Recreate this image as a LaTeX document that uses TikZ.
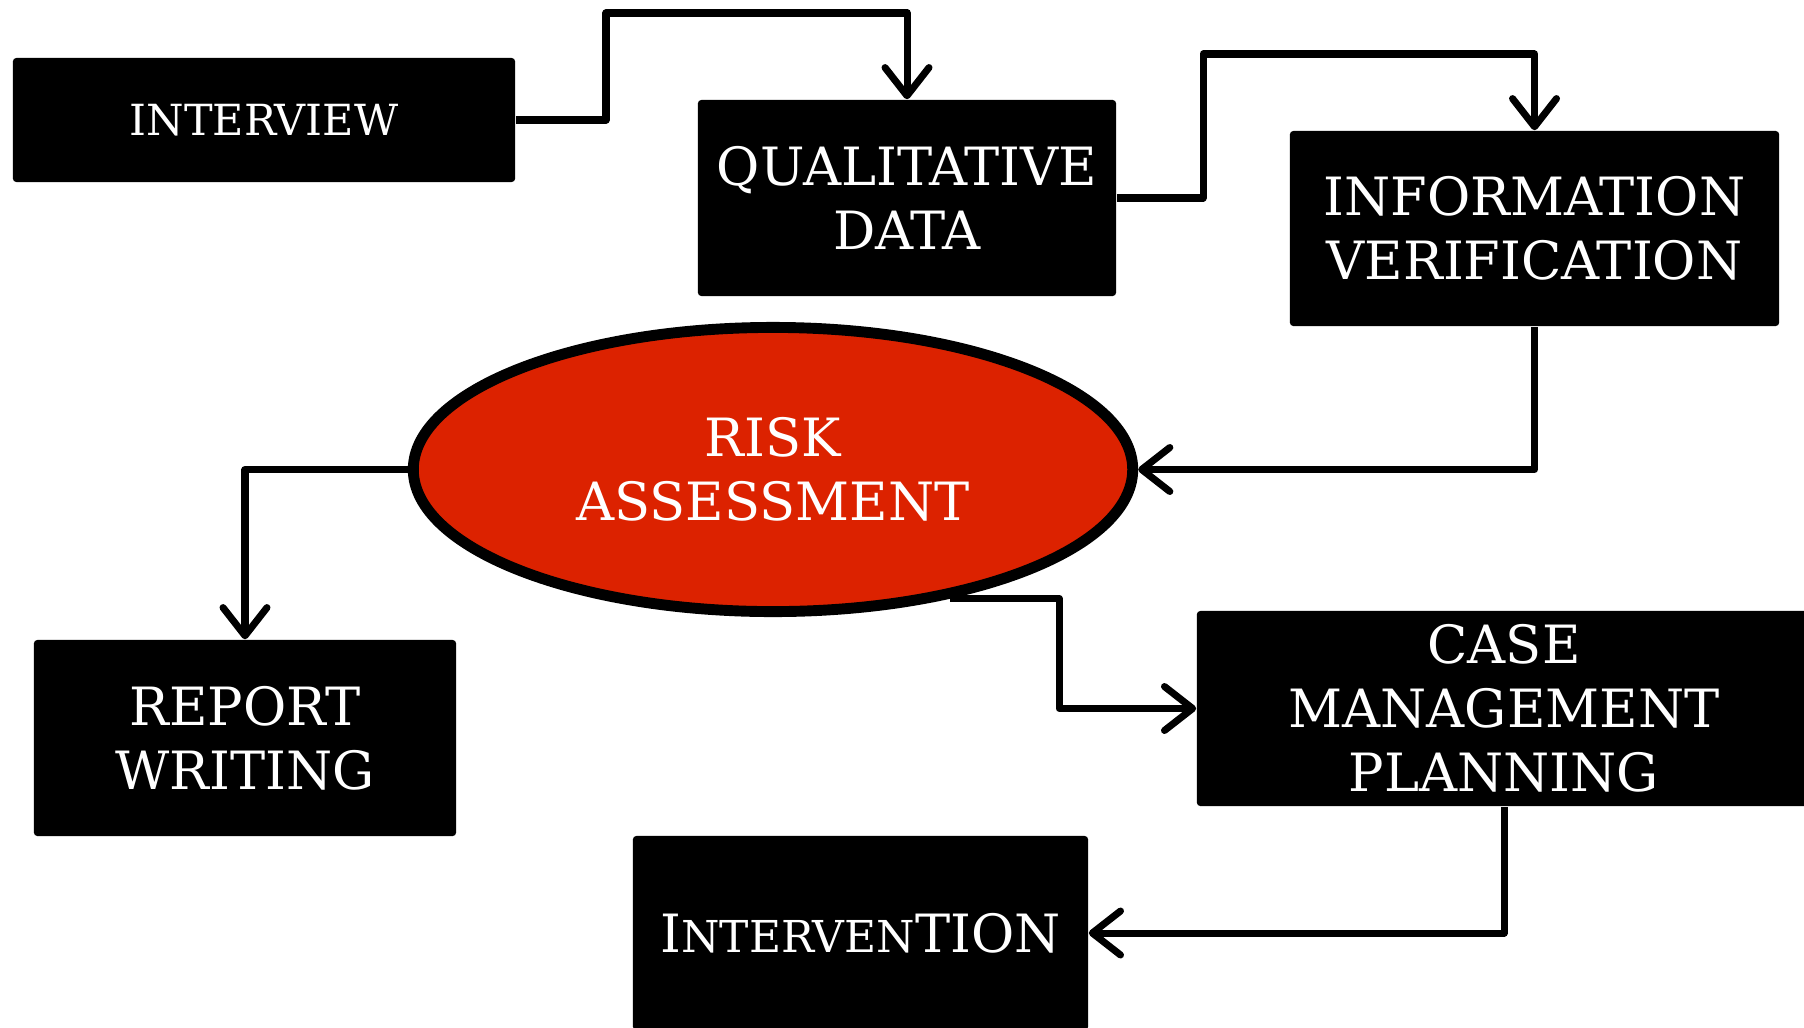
\documentclass[tikz,border=0pt]{standalone}
\usepackage{fontspec}
\setmainfont{DejaVu Serif}
\usetikzlibrary{arrows.meta,shapes.geometric}
\definecolor{riskred}{RGB}{220,34,0}
\begin{document}
\begin{tikzpicture}[x=0.01cm,y=-0.01cm,
  box/.style={fill=black,text=white,inner sep=0pt,align=center,rounded corners=1pt,
    font=\fontsize{15pt}{18.2pt}\selectfont},
  conn/.style={line width=2pt,line join=round,
    -{Straight Barb[length=8pt,width=12.5pt,round]}}
]
\clip (0,0) rectangle (1804,1027);
\fill[white] (0,0) rectangle (1804,1027);

\node[box,minimum width=5.02cm,minimum height=1.24cm,font=\fontsize{12.2pt}{15pt}\selectfont] (interview) at (264,120) {INTERVIEW};
\node[box,minimum width=4.18cm,minimum height=1.96cm] (qd) at (907,198) {QUALITATIVE\\DATA};
\node[box,minimum width=4.89cm,minimum height=1.95cm] (iv) at (1534.5,228.5) {INFORMATION\\VERIFICATION};
\node[ellipse,draw=black,line width=3.1pt,fill=riskred,text=white,inner sep=0pt,
  minimum width=7.19cm,minimum height=2.84cm,align=center,
  font=\fontsize{15pt}{18.2pt}\selectfont] (ra) at (773,469.5) {RISK\\ASSESSMENT};
\node[box,minimum width=4.22cm,minimum height=1.96cm] (rw) at (245,738) {REPORT\\WRITING};
\node[box,minimum width=6.14cm,minimum height=1.95cm] (cmp) at (1504,708.5) {CASE\\MANAGEMENT\\PLANNING};
\node[box,minimum width=4.55cm,minimum height=1.94cm] (int) at (860.5,933) {I{\fontsize{12.5pt}{15pt}\selectfont NTERVEN}TION};

\coordinate (c1) at (606,13);
\coordinate (c2) at (1203,54);
\coordinate (c3) at (1059,700);

\draw[conn] (interview.east) -| (c1) -| (qd.north);
\draw[conn] (qd.east) -| (c2) -| (iv.north);
\draw[conn] (iv.south) |- (ra.east);
\draw[conn] (ra.west) -| (rw.north);
\draw[conn] (ra.-36) -- (ra.-36 -| c3) |- (cmp.west);
\draw[conn] (cmp.south) |- (int.east);
\end{tikzpicture}
\end{document}
